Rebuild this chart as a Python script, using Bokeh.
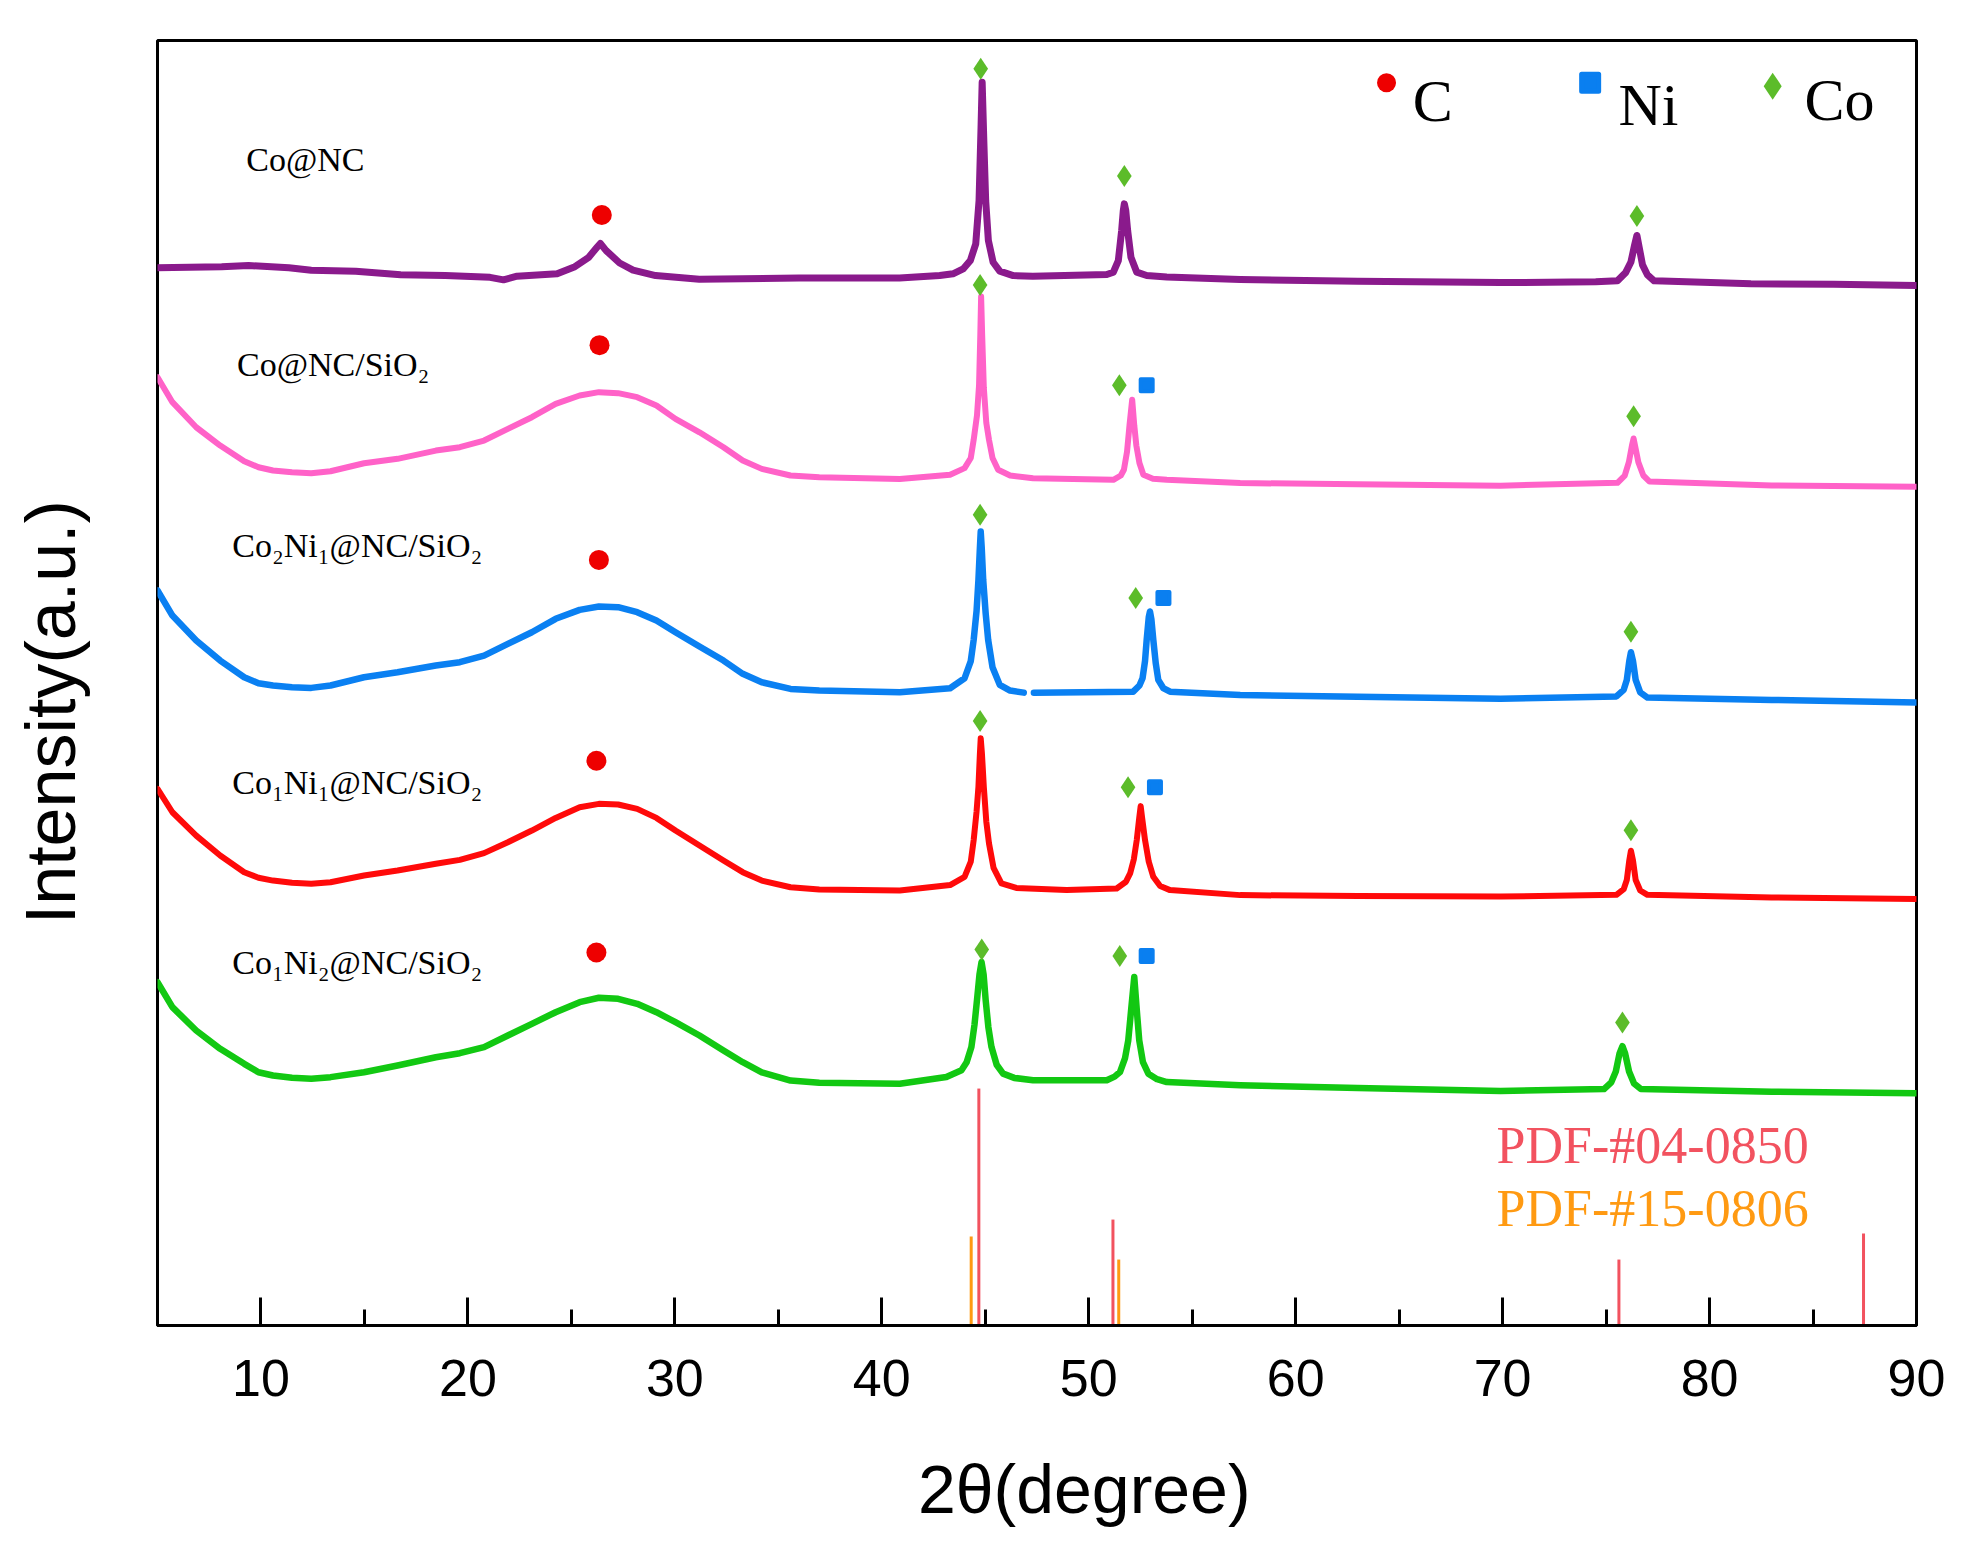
from bokeh.plotting import figure
from bokeh.models import Range1d, FixedTicker
from bokeh.core.properties import value
from bokeh.embed import file_html
from bokeh.resources import INLINE

nan = float("nan")

# ---- XRD patterns (2theta in degrees, stacked intensity in arbitrary units) ----
co_nc_x = [4.97, 8.10, 9.40, 11.35, 12.43, 14.58, 16.75, 18.91, 21.07, 21.72, 22.37, 24.31, 25.17, 25.82, 26.25,
           26.40, 26.68, 27.33, 27.98, 29.07, 31.18, 36.0, 40.86, 42.80, 43.44, 43.93, 44.28, 44.54, 44.70, 44.80,
           44.85, 44.93, 45.02, 45.15, 45.38, 45.70, 46.35, 47.3, 50.87, 51.19, 51.43, 51.59, 51.67, 51.72, 51.79,
           51.88, 52.04, 52.32, 52.80, 53.77, 57.32, 63.0, 69.9, 74.5, 75.55, 75.95, 76.2, 76.38, 76.49, 76.6,
           76.76, 77.0, 77.32, 82.0, 86.0, 90.0]
co_nc_y = [843.8, 844.6, 845.5, 843.8, 841.8, 841.0, 838.1, 837.5, 836.1, 834.1, 837.0, 838.9, 844.6, 851.8, 860.3,
           863.1, 857.4, 847.5, 841.8, 837.5, 834.6, 835.5, 835.6, 837.5, 838.9, 842.8, 849.5, 862.8, 897.3, 958.5,
           991.7, 945.2, 897.3, 865.4, 848.1, 841.0, 837.5, 836.9, 838.3, 840.2, 849.5, 873.4, 889.4, 894.7, 889.4,
           873.4, 852.1, 840.2, 837.5, 836.4, 834.3, 833.0, 831.9, 832.5, 833.3, 840.0, 848.3, 862.0, 869.5, 860.0,
           846.0, 838.0, 833.3, 831.0, 830.5, 829.5]

hump_x = [5.0, 5.72, 6.87, 8.03, 9.19, 9.88, 10.58, 11.50, 12.43, 13.36, 14.98, 16.60, 18.45, 19.61, 20.78, 21.93,
          23.09, 24.24, 25.40, 26.33, 27.26, 28.18, 29.11, 30.03, 31.19, 32.35, 33.28, 34.20, 35.59, 36.98, 40.87]

co_sio2_x = hump_x + [43.3, 44.0, 44.3, 44.44, 44.6, 44.7, 44.76, 44.8, 44.85, 44.93, 45.05, 45.18, 45.35, 45.62,
                      46.2, 47.31, 51.19, 51.55, 51.7, 51.85, 51.97, 52.1, 52.2, 52.3, 52.45, 52.64, 53.1, 53.77,
                      57.32, 63.0, 69.9, 75.55, 75.9, 76.1, 76.25, 76.33, 76.42, 76.56, 76.8, 77.1, 83.0, 90.0]
co_sio2_y = [756.4, 736.5, 716.5, 701.9, 689.4, 684.6, 682.0, 680.6, 679.8, 681.4, 687.8, 691.3, 697.9, 700.6, 705.9,
             715.2, 724.5, 735.2, 741.8, 744.5, 743.7, 740.5, 733.8, 723.2, 712.5, 700.6, 690.0, 683.3, 678.0, 676.6,
             675.3,
             678.6, 683.9, 692.0, 706.5, 726.0, 750.0, 790.0, 820.8, 790.0, 748.0, 720.0, 706.5, 692.0, 682.6,
             678.0, 675.9, 674.6, 678.0, 682.6, 697.0, 718.0, 738.5, 718.0, 702.0, 688.0, 678.6, 675.5, 674.6,
             672.0, 671.0, 669.9, 672.2, 678.0, 688.6, 702.0, 707.5, 700.0, 688.6, 678.0, 673.2, 670.0, 669.0]

co2ni1_x = hump_x + [43.3, 44.0, 44.3, 44.44, 44.58, 44.67, 44.74, 44.78, 44.83, 44.9, 45.02, 45.14, 45.35, 45.7,
                     46.2, 46.86, nan, 47.35, 52.15, 52.45, 52.6, 52.72, 52.8, 52.9, 52.96, 53.03, 53.12, 53.24,
                     53.36, 53.6, 53.93, 57.32, 63.0, 69.9, 75.5, 75.85, 76.0, 76.12, 76.2, 76.3, 76.43, 76.65, 77.0,
                     83.0, 90.0]
co2ni1_y = [586.3, 566.3, 546.4, 530.4, 517.1, 512.3, 510.5, 509.1, 508.6, 510.5, 517.1, 521.1, 526.4, 529.1, 534.4,
            543.7, 553.0, 563.7, 570.8, 573.5, 573.0, 569.0, 562.3, 553.0, 541.6, 530.4, 519.8, 513.1, 507.8, 506.5,
            505.2,
            508.3, 516.3, 530.0, 546.9, 570.0, 594.8, 620.0, 633.3, 620.0, 594.8, 568.0, 546.9, 525.0, 511.0,
            506.5, 504.8, nan, 504.8, 505.6, 510.5, 516.3, 530.0, 546.9, 565.0, 569.5, 563.0, 546.9, 528.0,
            515.0, 508.5, 505.6, 503.0, 501.5, 499.9, 501.8, 507.0, 514.9, 530.0, 537.0, 530.0, 514.9, 505.0, 500.9,
            499.0, 497.0]

co1ni1_x = hump_x + [43.3, 44.0, 44.3, 44.44, 44.58, 44.67, 44.74, 44.78, 44.84, 44.93, 45.05, 45.18, 45.4, 45.78,
                     46.5, 48.93, 51.35, 51.8, 52.0, 52.18, 52.32, 52.44, 52.51, 52.58, 52.72, 52.9, 53.12, 53.45,
                     53.93, 57.32, 63.0, 69.9, 75.5, 75.85, 76.0, 76.12, 76.2, 76.3, 76.43, 76.65, 77.0, 83.0, 90.0]
co1ni1_y = [428.1, 409.4, 390.8, 374.9, 361.6, 357.1, 354.9, 353.1, 352.3, 353.6, 358.9, 362.9, 368.3, 371.4, 376.8,
            385.5, 394.8, 404.9, 413.4, 416.1, 415.6, 412.1, 404.9, 394.8, 382.9, 370.9, 361.6, 354.9, 349.6, 347.8,
            347.0,
            351.3, 357.9, 370.0, 387.2, 410.0, 429.7, 456.0, 468.4, 456.0, 429.7, 402.0, 384.6, 365.0, 352.6,
            349.0, 347.3, 348.6, 354.0, 360.6, 372.0, 387.2, 405.0, 414.3, 405.0, 387.2, 370.0, 357.9, 350.5,
            347.3, 343.3, 342.5, 342.1, 343.5, 348.0, 355.3, 371.0, 378.7, 371.0, 355.3, 347.0, 343.5, 341.5, 340.3]

co1ni2_x = hump_x + [43.12, 43.85, 44.1, 44.33, 44.48, 44.6, 44.72, 44.82, 44.92, 45.02, 45.15, 45.3, 45.55, 45.86,
                     46.4, 47.31, 50.87, 51.25, 51.51, 51.75, 51.91, 52.05, 52.2, 52.32, 52.44, 52.62, 52.88, 53.3,
                     53.77, 57.32, 63.0, 69.9, 74.9, 75.25, 75.47, 75.65, 75.79, 75.92, 76.11, 76.35, 76.68, 83.0,
                     90.0]
co1ni2_y = [273.8, 253.9, 235.3, 220.7, 208.7, 202.0, 199.4, 197.6, 196.8, 198.1, 202.0, 207.4, 214.0, 217.2, 222.0,
            231.3, 240.6, 249.9, 257.9, 261.4, 260.6, 256.6, 249.9, 241.9, 231.3, 219.3, 210.0, 202.0, 195.4, 193.6,
            192.8,
            198.2, 203.6, 210.0, 222.2, 240.0, 259.5, 280.0, 290.0, 280.0, 259.5, 238.0, 222.2, 208.0, 200.9,
            197.5, 195.6, 195.6, 198.5, 202.2, 213.0, 227.5, 252.0, 278.0, 252.0, 227.5, 210.0, 200.9, 196.5,
            194.2, 191.6, 189.5, 187.1, 188.6, 194.0, 202.6, 217.0, 222.8, 217.0, 202.6, 193.0, 188.6, 186.5, 185.2]

series_colors = ["#8a1a8c", "#ff62c8", "#0a80f2", "#ff0a0a", "#12c812"]
series_names = ["Co@NC", "Co@NC/SiO\u2082", "Co\u2082Ni\u2081@NC/SiO\u2082",
                "Co\u2081Ni\u2081@NC/SiO\u2082", "Co\u2081Ni\u2082@NC/SiO\u2082"]
name_x = [9.29, 8.84, 8.61, 8.61, 8.61]
name_y = [929.8, 766.9, 621.9, 433.0, 289.3]

# ---- phase markers ----
c_mark_x = [26.47, 26.36, 26.33, 26.21, 26.21]
c_mark_y = [885.8, 782.0, 610.7, 450.5, 297.5]
co_mark_x = [44.78, 51.72, 76.49, 44.75, 51.48, 76.33, 44.75, 52.27, 76.2, 44.75, 51.9, 76.2, 44.83, 51.5, 75.79]
co_mark_y = [1002.5, 917.0, 885.0, 829.9, 750.0, 725.3, 646.7, 580.3, 553.4, 482.2, 429.3, 395.0, 300.0, 294.8, 241.6]
ni_mark_x = [52.8, 53.61, 53.2, 52.8]
ni_mark_y = [750.0, 580.3, 429.3, 294.8]

# ---- reference cards ----
pdf_ni_x = [44.69, 51.17, 75.62, 87.44]
pdf_ni_h = [189.0, 84.5, 52.6, 73.4]
pdf_co_x = [44.32, 51.45]
pdf_co_h = [71.0, 52.6]
pdf_labels = ["PDF-#04-0850", "PDF-#15-0806"]
pdf_label_x = [69.71, 69.71]
pdf_label_y = [143.5, 93.5]
pdf_colors = ["#f2525f", "#ff9a12"]

legend_labels = ["C", "Ni", "Co"]
legend_mark_x = [64.39, 74.23, 83.05]
legend_mark_y = [991.3, 991.3, 988.6]
legend_text_x = [65.66, 75.6, 84.59]
legend_text_y = [976.4, 973.7, 977.7]

x_major = [10, 20, 30, 40, 50, 60, 70, 80, 90]
x_minor = [5, 15, 25, 35, 45, 55, 65, 75, 85]
x_title = "2\u03b8(degree)"
y_title = "Intensity(a.u.)"
NBSP = "\u00a0"

RED_DOT = "#ee0000"
NI_BLUE = "#0a7ff0"
CO_GREEN = "#5cbc2a"

p = figure(frame_width=1759, frame_height=1285,
           x_range=Range1d(5, 90), y_range=Range1d(0, 1025),
           output_backend="svg", toolbar_location=None,
           min_border_left=157, min_border_top=40, min_border_right=30, min_border_bottom=222)
p.background_fill_color = "white"
p.border_fill_color = "white"
p.outline_line_color = "black"
p.outline_line_width = 3
p.xgrid.visible = False
p.ygrid.visible = False

# x axis
xa = p.xaxis[0]
xa.ticker = FixedTicker(ticks=x_major, minor_ticks=x_minor)
xa.axis_line_color = "black"
xa.axis_line_width = 3
xa.major_tick_in = 28
xa.major_tick_out = 0
xa.minor_tick_in = 16
xa.minor_tick_out = 0
xa.major_tick_line_width = 3
xa.minor_tick_line_width = 3
xa.major_tick_line_color = "black"
xa.minor_tick_line_color = "black"
xa.major_label_text_font = "Liberation Sans"
xa.major_label_text_font_size = "52px"
xa.major_label_text_color = "black"
xa.major_label_standoff = 34
# leading no-break spaces move the centred title slightly right, as in the original
xa.axis_label = NBSP * 5 + x_title
xa.axis_label_text_font = "Liberation Sans"
xa.axis_label_text_font_size = "68px"
xa.axis_label_text_font_style = "normal"
xa.axis_label_text_color = "black"
xa.axis_label_standoff = 52

# y axis (label only); trailing no-break spaces move the title slightly down
ya = p.yaxis[0]
ya.ticker = FixedTicker(ticks=[])
ya.axis_line_color = None
ya.major_tick_line_color = None
ya.minor_tick_line_color = None
ya.major_label_standoff = 0
ya.axis_label = y_title + NBSP * 3
ya.axis_label_text_font = "Liberation Sans"
ya.axis_label_text_font_size = "70px"
ya.axis_label_text_font_style = "normal"
ya.axis_label_text_color = "black"
ya.axis_label_standoff = 68

# reference sticks
p.segment(x0=pdf_co_x, y0=[0] * len(pdf_co_x), x1=pdf_co_x, y1=pdf_co_h,
          line_color=pdf_colors[1], line_width=3)
p.segment(x0=pdf_ni_x, y0=[0] * len(pdf_ni_x), x1=pdf_ni_x, y1=pdf_ni_h,
          line_color=pdf_colors[0], line_width=3)

# patterns
all_x = [co_nc_x, co_sio2_x, co2ni1_x, co1ni1_x, co1ni2_x]
all_y = [co_nc_y, co_sio2_y, co2ni1_y, co1ni1_y, co1ni2_y]
widths = [7, 6, 6.5, 6, 6.5]
for xs, ys, c, w in zip(all_x, all_y, series_colors, widths):
    p.line(xs, ys, line_color=c, line_width=w, line_join="round", line_cap="round")

# sample names
p.text(x=name_x, y=name_y, text=series_names, text_font=value("Liberation Serif"),
       text_font_size=value("34px"), text_color="black", text_align="left", text_baseline="alphabetic")

# phase markers
p.scatter(c_mark_x, c_mark_y, marker="circle", size=20, fill_color=RED_DOT, line_color=None)
p.scatter(co_mark_x, co_mark_y, marker="diamond", size=22, fill_color=CO_GREEN, line_color=None)
p.scatter(ni_mark_x, ni_mark_y, marker="square", size=12, fill_color=NI_BLUE,
          line_color=NI_BLUE, line_width=4, line_join="round")

# legend
p.scatter(legend_mark_x[:1], legend_mark_y[:1], marker="circle", size=19, fill_color=RED_DOT, line_color=None)
p.scatter(legend_mark_x[1:2], legend_mark_y[1:2], marker="square", size=17, fill_color=NI_BLUE,
          line_color=NI_BLUE, line_width=5, line_join="round")
p.scatter(legend_mark_x[2:], legend_mark_y[2:], marker="diamond", size=27, fill_color=CO_GREEN, line_color=None)
p.text(x=legend_text_x, y=legend_text_y, text=legend_labels, text_font=value("Liberation Serif"),
       text_font_size=value("60px"), text_color="black", text_align="left", text_baseline="alphabetic")

# card labels
p.text(x=pdf_label_x, y=pdf_label_y, text=pdf_labels, text_font=value("Liberation Serif"),
       text_font_size=value("52px"), text_color=pdf_colors, text_align="left", text_baseline="alphabetic")

open("out.html", "w").write(file_html(p, INLINE))
